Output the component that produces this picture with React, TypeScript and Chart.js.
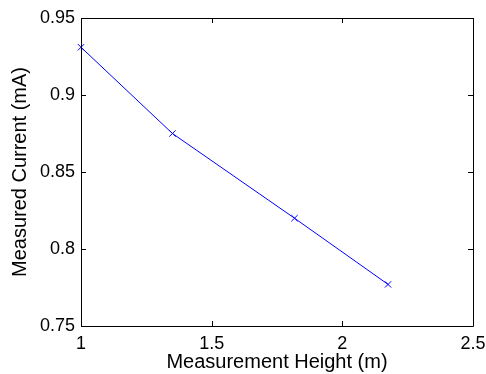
import React, { useEffect, useRef } from "react";
import { Chart, registerables } from "chart.js";

Chart.register(...registerables);

const heights = [1.0, 1.35, 1.817, 2.175];
const currents = [0.931, 0.875, 0.82, 0.777];
const xTicks = [1, 1.5, 2, 2.5];
const yTicks = [0.75, 0.8, 0.85, 0.9, 0.95];
const xTitle = "Measurement Height (m)";
const yTitle = "Measured Current (mA)";

const FONT = "'Liberation Sans', Arial, Helvetica, sans-serif";

const boxPlugin = {
  id: "matlabBox",
  afterDraw(chart: any) {
    const { ctx, chartArea } = chart;
    const { left, right, top, bottom } = chartArea;
    const xs = chart.scales.x;
    const ys = chart.scales.y;
    const L = 5;
    ctx.save();
    ctx.strokeStyle = "#000";
    ctx.lineWidth = 1;
    ctx.beginPath();
    ctx.rect(Math.round(left) + 0.5, Math.round(top) + 0.5, Math.round(right - left), Math.round(bottom - top));
    for (const v of xTicks) {
      const px = Math.round(xs.getPixelForValue(v)) + 0.5;
      ctx.moveTo(px, bottom);
      ctx.lineTo(px, bottom - L);
      ctx.moveTo(px, top);
      ctx.lineTo(px, top + L);
    }
    for (const v of yTicks) {
      const py = Math.round(ys.getPixelForValue(v)) + 0.5;
      ctx.moveTo(left, py);
      ctx.lineTo(left + L, py);
      ctx.moveTo(right, py);
      ctx.lineTo(right - L, py);
    }
    ctx.stroke();
    ctx.restore();
  },
};

export default function App() {
  const ref = useRef<HTMLCanvasElement>(null);
  useEffect(() => {
    if (!ref.current) return;
    const chart = new Chart(ref.current, {
      type: "line",
      data: {
        datasets: [
          {
            data: heights.map((h, i) => ({ x: h, y: currents[i] })),
            borderColor: "#0000ff",
            backgroundColor: "#0000ff",
            borderWidth: 1,
            pointStyle: "crossRot",
            pointRadius: 4.5,
            pointBorderWidth: 1,
            pointBorderColor: "#0000ff",
            tension: 0,
            fill: false,
            clip: false as any,
          },
        ],
      },
      plugins: [boxPlugin],
      options: {
        animation: false,
        responsive: false,
        devicePixelRatio: 1,
        layout: { padding: { left: 0, right: 13, top: 18, bottom: 0 } },
        plugins: { legend: { display: false }, tooltip: { enabled: false } },
        scales: {
          x: {
            type: "linear",
            min: 1,
            max: 2.5,
            afterBuildTicks: (s: any) => {
              s.ticks = xTicks.map((v) => ({ value: v }));
            },
            afterFit: (s: any) => {
              s.height = 48;
              s.paddingLeft = 0;
              s.paddingRight = 0;
              s.paddingTop = 0;
              s.paddingBottom = 0;
            },
            grid: { display: false, drawTicks: false, tickLength: 0 },
            border: { display: false },
            ticks: {
              color: "#000",
              font: { family: FONT, size: 18 },
              padding: 7,
              maxRotation: 0,
              autoSkip: false,
              callback: (v: any) => String(Number(Number(v).toFixed(2))),
            },
            title: {
              display: true,
              text: xTitle,
              color: "#000",
              font: { family: FONT, size: 20 },
              padding: { top: 0, bottom: 0 },
            },
          },
          y: {
            type: "linear",
            min: 0.75,
            max: 0.95,
            afterBuildTicks: (s: any) => {
              s.ticks = yTicks.map((v) => ({ value: v }));
            },
            afterFit: (s: any) => {
              s.width = 81;
              s.paddingLeft = 0;
              s.paddingRight = 0;
              s.paddingTop = 0;
              s.paddingBottom = 0;
            },
            grid: { display: false, drawTicks: false, tickLength: 0 },
            border: { display: false },
            ticks: {
              color: "#000",
              font: { family: FONT, size: 18 },
              padding: 6,
              autoSkip: false,
              callback: (v: any) => String(Number(Number(v).toFixed(2))),
            },
            title: {
              display: true,
              text: yTitle,
              color: "#000",
              font: { family: FONT, size: 20 },
              padding: { top: 8, bottom: 0 },
            },
          },
        },
      },
    });
    return () => chart.destroy();
  }, []);
  return (
    <div style={{ position: "absolute", left: 0, top: 0, width: 486, height: 374, background: "#fff" }}>
      <canvas ref={ref} width={486} height={374} style={{ width: 486, height: 374 }} />
    </div>
  );
}
